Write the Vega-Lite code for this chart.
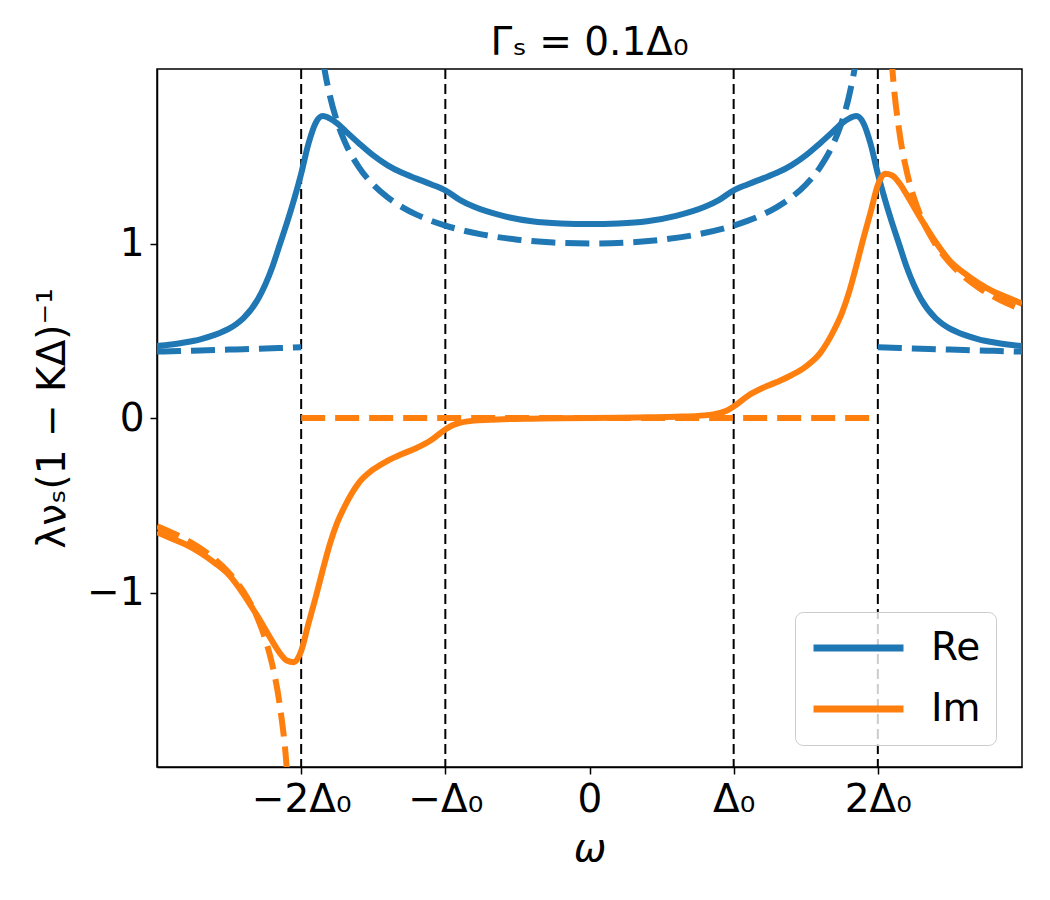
{
  "$schema": "https://vega.github.io/schema/vega-lite/v6.json",
  "autosize": {"type": "none"},
  "width": 865,
  "height": 698,
  "padding": {"left": 157, "top": 69, "right": 28, "bottom": 133},
  "background": "white",
  "title": {"text": "Γₛ = 0.1Δ₀", "fontSize": 39, "fontWeight": "normal", "font": "DejaVu Sans", "color": "black", "offset": 5},
  "config": {
    "font": "DejaVu Sans",
    "view": {"stroke": "black", "strokeWidth": 1.5},
    "axis": {
      "grid": false, "domainColor": "black", "domainWidth": 1.5,
      "tickColor": "black", "tickWidth": 1.5, "tickSize": 7,
      "labelFont": "DejaVu Sans", "labelFontSize": 39, "labelColor": "black", "labelPadding": 6,
      "labelOverlap": false, "labelFlush": false,
      "titleFont": "DejaVu Sans", "titleFontSize": 39, "titleFontWeight": "normal", "titleColor": "black"
    },
    "legend": {
      "orient": "none", "legendX": 638, "legendY": 543, "title": null,
      "labelFont": "DejaVu Sans", "labelFontSize": 39, "labelColor": "black", "labelOffset": 24,
      "symbolType": "stroke", "symbolSize": 8100, "symbolStrokeWidth": 7, "symbolDash": [1, 0],
      "clipHeight": 42,
      "fillColor": "rgba(255,255,255,0.8)", "strokeColor": "#cccccc", "cornerRadius": 8,
      "padding": 15, "rowPadding": 19
    }
  },
  "datasets": {
    "edges": [{"w": -2}, {"w": -1}, {"w": 1}, {"w": 2}],
    "broadened": [
      {"w": -3, "v": 0.412, "part": "Re"}, {"w": -2.9, "v": 0.421, "part": "Re"}, {"w": -2.8, "v": 0.434, "part": "Re"},
      {"w": -2.7, "v": 0.451, "part": "Re"}, {"w": -2.6, "v": 0.476, "part": "Re"}, {"w": -2.5, "v": 0.512, "part": "Re"},
      {"w": -2.45, "v": 0.538, "part": "Re"}, {"w": -2.4, "v": 0.572, "part": "Re"}, {"w": -2.3, "v": 0.68, "part": "Re"},
      {"w": -2.2, "v": 0.865, "part": "Re"},
      {"w": -2.15, "v": 0.99, "part": "Re"}, {"w": -2.1, "v": 1.115, "part": "Re"}, {"w": -2.05, "v": 1.25, "part": "Re"},
      {"w": -2.0, "v": 1.4, "part": "Re"}, {"w": -1.95, "v": 1.57, "part": "Re"}, {"w": -1.9, "v": 1.69, "part": "Re"},
      {"w": -1.85, "v": 1.73, "part": "Re"}, {"w": -1.8, "v": 1.716, "part": "Re"}, {"w": -1.75, "v": 1.688, "part": "Re"},
      {"w": -1.7, "v": 1.65, "part": "Re"}, {"w": -1.6, "v": 1.575, "part": "Re"}, {"w": -1.5, "v": 1.505, "part": "Re"},
      {"w": -1.4, "v": 1.448, "part": "Re"}, {"w": -1.3, "v": 1.405, "part": "Re"}, {"w": -1.2, "v": 1.372, "part": "Re"},
      {"w": -1.1, "v": 1.34, "part": "Re"}, {"w": -1.0, "v": 1.305, "part": "Re"}, {"w": -0.9, "v": 1.25, "part": "Re"},
      {"w": -0.8, "v": 1.21, "part": "Re"}, {"w": -0.6, "v": 1.158, "part": "Re"}, {"w": -0.4, "v": 1.127, "part": "Re"},
      {"w": -0.2, "v": 1.115, "part": "Re"}, {"w": 0, "v": 1.112, "part": "Re"},
      {"w": 0.2, "v": 1.115, "part": "Re"}, {"w": 0.4, "v": 1.127, "part": "Re"}, {"w": 0.6, "v": 1.158, "part": "Re"},
      {"w": 0.8, "v": 1.21, "part": "Re"}, {"w": 0.9, "v": 1.25, "part": "Re"}, {"w": 1.0, "v": 1.305, "part": "Re"},
      {"w": 1.1, "v": 1.34, "part": "Re"}, {"w": 1.2, "v": 1.372, "part": "Re"}, {"w": 1.3, "v": 1.405, "part": "Re"},
      {"w": 1.4, "v": 1.448, "part": "Re"}, {"w": 1.5, "v": 1.505, "part": "Re"}, {"w": 1.6, "v": 1.575, "part": "Re"},
      {"w": 1.7, "v": 1.65, "part": "Re"}, {"w": 1.75, "v": 1.688, "part": "Re"}, {"w": 1.8, "v": 1.716, "part": "Re"},
      {"w": 1.85, "v": 1.73, "part": "Re"}, {"w": 1.9, "v": 1.69, "part": "Re"}, {"w": 1.95, "v": 1.57, "part": "Re"},
      {"w": 2.0, "v": 1.4, "part": "Re"}, {"w": 2.05, "v": 1.25, "part": "Re"}, {"w": 2.1, "v": 1.115, "part": "Re"},
      {"w": 2.15, "v": 0.99, "part": "Re"}, {"w": 2.2, "v": 0.865, "part": "Re"}, {"w": 2.3, "v": 0.68, "part": "Re"},
      {"w": 2.4, "v": 0.572, "part": "Re"}, {"w": 2.45, "v": 0.538, "part": "Re"}, {"w": 2.5, "v": 0.512, "part": "Re"},
      {"w": 2.6, "v": 0.476, "part": "Re"},
      {"w": 2.7, "v": 0.451, "part": "Re"}, {"w": 2.8, "v": 0.434, "part": "Re"}, {"w": 2.9, "v": 0.421, "part": "Re"},
      {"w": 3, "v": 0.412, "part": "Re"},

      {"w": -3, "v": -0.655, "part": "Im"}, {"w": -2.9, "v": -0.69, "part": "Im"}, {"w": -2.8, "v": -0.725, "part": "Im"},
      {"w": -2.7, "v": -0.772, "part": "Im"}, {"w": -2.6, "v": -0.83, "part": "Im"}, {"w": -2.5, "v": -0.9, "part": "Im"},
      {"w": -2.4, "v": -1.01, "part": "Im"}, {"w": -2.3, "v": -1.14, "part": "Im"}, {"w": -2.2, "v": -1.28, "part": "Im"},
      {"w": -2.15, "v": -1.345, "part": "Im"}, {"w": -2.1, "v": -1.39, "part": "Im"}, {"w": -2.05, "v": -1.4, "part": "Im"},
      {"w": -2.0, "v": -1.335, "part": "Im"}, {"w": -1.95, "v": -1.18, "part": "Im"}, {"w": -1.9, "v": -1.03, "part": "Im"},
      {"w": -1.85, "v": -0.87, "part": "Im"}, {"w": -1.8, "v": -0.72, "part": "Im"}, {"w": -1.75, "v": -0.6, "part": "Im"},
      {"w": -1.7, "v": -0.51, "part": "Im"}, {"w": -1.6, "v": -0.372, "part": "Im"}, {"w": -1.5, "v": -0.295, "part": "Im"},
      {"w": -1.4, "v": -0.245, "part": "Im"}, {"w": -1.3, "v": -0.206, "part": "Im"}, {"w": -1.2, "v": -0.172, "part": "Im"},
      {"w": -1.1, "v": -0.128, "part": "Im"}, {"w": -1.0, "v": -0.066, "part": "Im"}, {"w": -0.95, "v": -0.042, "part": "Im"},
      {"w": -0.9, "v": -0.028, "part": "Im"}, {"w": -0.8, "v": -0.015, "part": "Im"}, {"w": -0.6, "v": -0.007, "part": "Im"},
      {"w": -0.4, "v": -0.004, "part": "Im"}, {"w": -0.2, "v": -0.002, "part": "Im"}, {"w": 0, "v": 0, "part": "Im"},
      {"w": 0.2, "v": 0.002, "part": "Im"}, {"w": 0.4, "v": 0.004, "part": "Im"}, {"w": 0.6, "v": 0.007, "part": "Im"},
      {"w": 0.8, "v": 0.015, "part": "Im"}, {"w": 0.9, "v": 0.028, "part": "Im"}, {"w": 0.95, "v": 0.042, "part": "Im"},
      {"w": 1.0, "v": 0.066, "part": "Im"}, {"w": 1.1, "v": 0.128, "part": "Im"}, {"w": 1.2, "v": 0.172, "part": "Im"},
      {"w": 1.3, "v": 0.206, "part": "Im"}, {"w": 1.4, "v": 0.245, "part": "Im"}, {"w": 1.5, "v": 0.295, "part": "Im"},
      {"w": 1.6, "v": 0.372, "part": "Im"}, {"w": 1.7, "v": 0.51, "part": "Im"}, {"w": 1.75, "v": 0.6, "part": "Im"},
      {"w": 1.8, "v": 0.72, "part": "Im"}, {"w": 1.85, "v": 0.87, "part": "Im"}, {"w": 1.9, "v": 1.03, "part": "Im"},
      {"w": 1.95, "v": 1.18, "part": "Im"}, {"w": 2.0, "v": 1.335, "part": "Im"}, {"w": 2.05, "v": 1.4, "part": "Im"},
      {"w": 2.1, "v": 1.39, "part": "Im"}, {"w": 2.15, "v": 1.345, "part": "Im"}, {"w": 2.2, "v": 1.28, "part": "Im"},
      {"w": 2.3, "v": 1.14, "part": "Im"}, {"w": 2.4, "v": 1.01, "part": "Im"}, {"w": 2.5, "v": 0.9, "part": "Im"},
      {"w": 2.6, "v": 0.83, "part": "Im"}, {"w": 2.7, "v": 0.772, "part": "Im"}, {"w": 2.8, "v": 0.725, "part": "Im"},
      {"w": 2.9, "v": 0.69, "part": "Im"}, {"w": 3, "v": 0.655, "part": "Im"}
    ],
    "clean": [
      {"w": -3, "v": 0.3805, "part": "Re", "seg": "ReL"}, {"w": -2.9, "v": 0.3826, "part": "Re", "seg": "ReL"},
      {"w": -2.8, "v": 0.3848, "part": "Re", "seg": "ReL"}, {"w": -2.7, "v": 0.3871, "part": "Re", "seg": "ReL"},
      {"w": -2.6, "v": 0.3895, "part": "Re", "seg": "ReL"}, {"w": -2.5, "v": 0.3919, "part": "Re", "seg": "ReL"},
      {"w": -2.4, "v": 0.3944, "part": "Re", "seg": "ReL"}, {"w": -2.3, "v": 0.397, "part": "Re", "seg": "ReL"},
      {"w": -2.2, "v": 0.3997, "part": "Re", "seg": "ReL"}, {"w": -2.1, "v": 0.4024, "part": "Re", "seg": "ReL"},
      {"w": -2.0, "v": 0.4053, "part": "Re", "seg": "ReL"},

      {"w": -1.9, "v": 2.4277, "part": "Re", "seg": "ReC"}, {"w": -1.85, "v": 2.0613, "part": "Re", "seg": "ReC"},
      {"w": -1.8, "v": 1.8439, "part": "Re", "seg": "ReC"}, {"w": -1.75, "v": 1.6964, "part": "Re", "seg": "ReC"},
      {"w": -1.7, "v": 1.5882, "part": "Re", "seg": "ReC"}, {"w": -1.6, "v": 1.4379, "part": "Re", "seg": "ReC"},
      {"w": -1.5, "v": 1.337, "part": "Re", "seg": "ReC"}, {"w": -1.4, "v": 1.2641, "part": "Re", "seg": "ReC"},
      {"w": -1.3, "v": 1.2088, "part": "Re", "seg": "ReC"}, {"w": -1.2, "v": 1.1655, "part": "Re", "seg": "ReC"},
      {"w": -1.1, "v": 1.1308, "part": "Re", "seg": "ReC"}, {"w": -1.0, "v": 1.1027, "part": "Re", "seg": "ReC"},
      {"w": -0.75, "v": 1.0523, "part": "Re", "seg": "ReC"}, {"w": -0.5, "v": 1.0218, "part": "Re", "seg": "ReC"},
      {"w": -0.25, "v": 1.0053, "part": "Re", "seg": "ReC"}, {"w": 0, "v": 1.0, "part": "Re", "seg": "ReC"},
      {"w": 0.25, "v": 1.0053, "part": "Re", "seg": "ReC"}, {"w": 0.5, "v": 1.0218, "part": "Re", "seg": "ReC"},
      {"w": 0.75, "v": 1.0523, "part": "Re", "seg": "ReC"}, {"w": 1.0, "v": 1.1027, "part": "Re", "seg": "ReC"},
      {"w": 1.1, "v": 1.1308, "part": "Re", "seg": "ReC"}, {"w": 1.2, "v": 1.1655, "part": "Re", "seg": "ReC"},
      {"w": 1.3, "v": 1.2088, "part": "Re", "seg": "ReC"}, {"w": 1.4, "v": 1.2641, "part": "Re", "seg": "ReC"},
      {"w": 1.5, "v": 1.337, "part": "Re", "seg": "ReC"}, {"w": 1.6, "v": 1.4379, "part": "Re", "seg": "ReC"},
      {"w": 1.7, "v": 1.5882, "part": "Re", "seg": "ReC"}, {"w": 1.75, "v": 1.6964, "part": "Re", "seg": "ReC"},
      {"w": 1.8, "v": 1.8439, "part": "Re", "seg": "ReC"}, {"w": 1.85, "v": 2.0613, "part": "Re", "seg": "ReC"},
      {"w": 1.9, "v": 2.4277, "part": "Re", "seg": "ReC"},

      {"w": 2.0, "v": 0.4053, "part": "Re", "seg": "ReR"}, {"w": 2.1, "v": 0.4024, "part": "Re", "seg": "ReR"},
      {"w": 2.2, "v": 0.3997, "part": "Re", "seg": "ReR"}, {"w": 2.3, "v": 0.397, "part": "Re", "seg": "ReR"},
      {"w": 2.4, "v": 0.3944, "part": "Re", "seg": "ReR"}, {"w": 2.5, "v": 0.3919, "part": "Re", "seg": "ReR"},
      {"w": 2.6, "v": 0.3895, "part": "Re", "seg": "ReR"}, {"w": 2.7, "v": 0.3871, "part": "Re", "seg": "ReR"},
      {"w": 2.8, "v": 0.3848, "part": "Re", "seg": "ReR"}, {"w": 2.9, "v": 0.3826, "part": "Re", "seg": "ReR"},
      {"w": 3, "v": 0.3805, "part": "Re", "seg": "ReR"},

      {"w": -3, "v": -0.621, "part": "Im", "seg": "ImL"}, {"w": -2.9, "v": -0.6559, "part": "Im", "seg": "ImL"},
      {"w": -2.8, "v": -0.6972, "part": "Im", "seg": "ImL"}, {"w": -2.7, "v": -0.747, "part": "Im", "seg": "ImL"},
      {"w": -2.6, "v": -0.8088, "part": "Im", "seg": "ImL"}, {"w": -2.5, "v": -0.8881, "part": "Im", "seg": "ImL"},
      {"w": -2.4, "v": -0.9954, "part": "Im", "seg": "ImL"}, {"w": -2.3, "v": -1.1524, "part": "Im", "seg": "ImL"},
      {"w": -2.25, "v": -1.2641, "part": "Im", "seg": "ImL"}, {"w": -2.2, "v": -1.4153, "part": "Im", "seg": "ImL"},
      {"w": -2.15, "v": -1.6365, "part": "Im", "seg": "ImL"}, {"w": -2.1, "v": -2.0072, "part": "Im", "seg": "ImL"},
      {"w": -2.07, "v": -2.4012, "part": "Im", "seg": "ImL"}, {"w": -2.05, "v": -2.8428, "part": "Im", "seg": "ImL"},

      {"w": -2.0, "v": 0, "part": "Im", "seg": "ImC"}, {"w": 2.0, "v": 0, "part": "Im", "seg": "ImC"},

      {"w": 2.05, "v": 2.8428, "part": "Im", "seg": "ImR"}, {"w": 2.07, "v": 2.4012, "part": "Im", "seg": "ImR"},
      {"w": 2.1, "v": 2.0072, "part": "Im", "seg": "ImR"}, {"w": 2.15, "v": 1.6365, "part": "Im", "seg": "ImR"},
      {"w": 2.2, "v": 1.4153, "part": "Im", "seg": "ImR"}, {"w": 2.25, "v": 1.2641, "part": "Im", "seg": "ImR"},
      {"w": 2.3, "v": 1.1524, "part": "Im", "seg": "ImR"}, {"w": 2.4, "v": 0.9954, "part": "Im", "seg": "ImR"},
      {"w": 2.5, "v": 0.8881, "part": "Im", "seg": "ImR"}, {"w": 2.6, "v": 0.8088, "part": "Im", "seg": "ImR"},
      {"w": 2.7, "v": 0.747, "part": "Im", "seg": "ImR"}, {"w": 2.8, "v": 0.6972, "part": "Im", "seg": "ImR"},
      {"w": 2.9, "v": 0.6559, "part": "Im", "seg": "ImR"}, {"w": 3, "v": 0.621, "part": "Im", "seg": "ImR"}
    ]
  },
  "layer": [
    {
      "data": {"name": "edges"},
      "mark": {"type": "rule", "color": "black", "strokeWidth": 2, "strokeDash": [10, 5]},
      "encoding": {
        "x": {"field": "w", "type": "quantitative", "scale": {"domain": [-3, 3], "nice": false},
              "axis": {"values": [-2, -1, 0, 1, 2], "title": "ω", "titleFontStyle": "italic", "titlePadding": 10,
                       "labelExpr": "datum.value == -2 ? '−2Δ₀' : datum.value == -1 ? '−Δ₀' : datum.value == 0 ? '0' : datum.value == 1 ? 'Δ₀' : '2Δ₀'"}}
      }
    },
    {
      "data": {"name": "broadened"},
      "mark": {"type": "line", "strokeWidth": 6, "clip": true, "interpolate": "monotone"},
      "encoding": {
        "x": {"field": "w", "type": "quantitative", "scale": {"domain": [-3, 3], "nice": false},
              "axis": {"values": [-2, -1, 0, 1, 2], "title": "ω", "titleFontStyle": "italic", "titlePadding": 10,
                       "labelExpr": "datum.value == -2 ? '−2Δ₀' : datum.value == -1 ? '−Δ₀' : datum.value == 0 ? '0' : datum.value == 1 ? 'Δ₀' : '2Δ₀'"}},
        "y": {"field": "v", "type": "quantitative", "scale": {"domain": [-2, 2], "nice": false},
              "axis": {"values": [-1, 0, 1], "title": "λνₛ(1 − KΔ)⁻¹", "titlePadding": 14,
                       "labelExpr": "datum.value == -1 ? '−1' : datum.value == 0 ? '0' : '1'"}},
        "color": {"field": "part", "type": "nominal", "scale": {"domain": ["Re", "Im"], "range": ["#1f77b4", "#ff7f0e"]}}
      }
    },
    {
      "data": {"name": "clean"},
      "mark": {"type": "line", "strokeWidth": 6, "clip": true, "interpolate": "monotone", "strokeDash": [24, 10]},
      "encoding": {
        "x": {"field": "w", "type": "quantitative", "scale": {"domain": [-3, 3], "nice": false},
              "axis": {"values": [-2, -1, 0, 1, 2], "title": "ω", "titleFontStyle": "italic", "titlePadding": 10,
                       "labelExpr": "datum.value == -2 ? '−2Δ₀' : datum.value == -1 ? '−Δ₀' : datum.value == 0 ? '0' : datum.value == 1 ? 'Δ₀' : '2Δ₀'"}},
        "y": {"field": "v", "type": "quantitative", "scale": {"domain": [-2, 2], "nice": false},
              "axis": {"values": [-1, 0, 1], "title": "λνₛ(1 − KΔ)⁻¹", "titlePadding": 14,
                       "labelExpr": "datum.value == -1 ? '−1' : datum.value == 0 ? '0' : '1'"}},
        "color": {"field": "part", "type": "nominal", "scale": {"domain": ["Re", "Im"], "range": ["#1f77b4", "#ff7f0e"]}},
        "detail": {"field": "seg", "type": "nominal"}
      }
    }
  ]
}
